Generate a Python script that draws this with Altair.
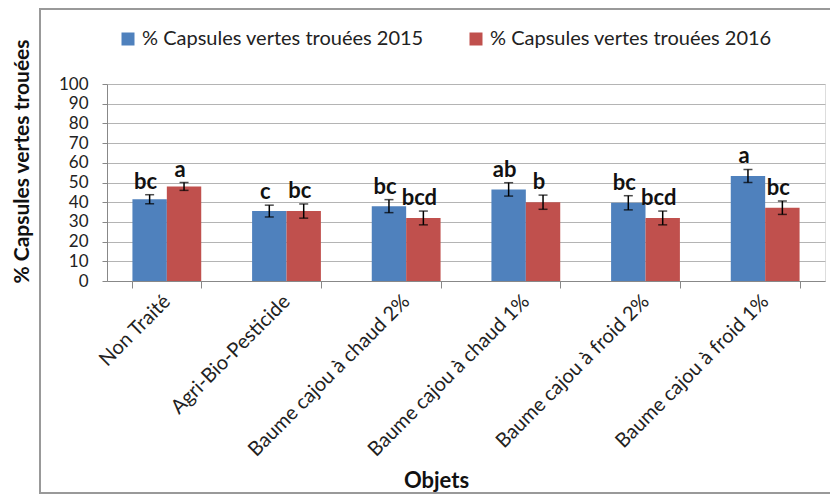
import altair as alt
import pandas as pd

categories = ["Non Traité", "Agri-Bio-Pesticide", "Baume cajou à chaud 2%",
              "Baume cajou à chaud 1%", "Baume cajou à froid 2%", "Baume cajou à froid 1%"]
series = ["% Capsules vertes trouées 2015", "% Capsules vertes trouées 2016"]
v2015 = [41.5, 35.5, 38.0, 46.5, 39.7, 53.3]
e2015 = [2.3, 3.0, 3.3, 3.4, 3.6, 3.3]
l2015 = ["bc", "c", "bc", "ab", "bc", "a"]
v2016 = [48.0, 35.5, 32.0, 40.0, 32.0, 37.2]
e2016 = [2.0, 3.6, 3.5, 3.6, 3.5, 3.4]
l2016 = ["a", "bc", "bcd", "b", "bcd", "bc"]
colors = ["#4F81BD", "#C0504D"]

rows = []
for i, c in enumerate(categories):
    rows.append({"obj": c, "serie": series[0], "val": v2015[i], "lo": v2015[i] - e2015[i],
                 "hi": v2015[i] + e2015[i], "lab": l2015[i]})
    rows.append({"obj": c, "serie": series[1], "val": v2016[i], "lo": v2016[i] - e2016[i],
                 "hi": v2016[i] + e2016[i], "lab": l2016[i]})
df = pd.DataFrame(rows)

FONT = "Lato"
W, H = 718, 197

xscale = alt.Scale(domain=categories, paddingInner=0.425, paddingOuter=0.2125)
xaxis = alt.Axis(labelAngle=-45, labelAlign="right", labelBaseline="middle",
                 labelPadding=10, labelFontSize=20, labelFont=FONT, labelColor="#222",
                 labelLimit=0, labelOverlap=False,
                 tickBand="extent", tickSize=7, tickColor="#888", domainColor="#888",
                 titleFont=FONT, titleFontSize=22, titleFontWeight="bold", titleColor="#111",
                 titleX=329, titleY=206, titleAlign="center", titleBaseline="alphabetic",
                 titleAnchor="start")
x = alt.X("obj:N", sort=categories, title="Objets", scale=xscale, axis=xaxis)
xo = alt.XOffset("serie:N", sort=series, scale=alt.Scale(domain=series, paddingInner=0, paddingOuter=0))

yscale = alt.Scale(domain=[0, 100], nice=False)
yaxis = alt.Axis(values=list(range(0, 101, 10)), tickSize=5, tickColor="#888",
                 domainColor="#888", gridColor="#b4b4b4", labelFontSize=17, labelFont=FONT,
                 labelColor="#222", labelPadding=14, labelOverlap=False,
                 titleFont=FONT, titleFontSize=21, titleFontWeight="bold", titleColor="#111",
                 titleAngle=270, titleX=-79, titleY=77, titleAlign="center",
                 titleBaseline="alphabetic")
ytitle = "% Capsules vertes trouées"

base = alt.Chart(df)

frame = base.mark_rect(fill=None, stroke="#999", strokeWidth=1.5).encode(
    x=alt.value(-67), x2=alt.value(740), y=alt.value(-75), y2=alt.value(409))

bars = base.mark_bar().encode(
    x=x, xOffset=xo,
    y=alt.Y("val:Q", title=ytitle, scale=yscale, axis=yaxis),
    color=alt.Color("serie:N", sort=series, scale=alt.Scale(domain=series, range=colors),
                    legend=alt.Legend(title=None, orient="none", legendX=11, legendY=-55,
                                      direction="horizontal", symbolType="square",
                                      symbolSize=169, symbolStrokeWidth=0, labelFontSize=20,
                                      labelFont=FONT, labelColor="#222", columnPadding=42,
                                      labelOffset=4, labelLimit=0)))

rules = base.mark_rule(color="black", strokeWidth=1.5).encode(
    x=x, xOffset=xo, y=alt.Y("lo:Q", title=ytitle, scale=yscale, axis=yaxis), y2="hi:Q")
caps_hi = base.mark_tick(color="black", thickness=1.5, size=9, orient="horizontal").encode(
    x=x, xOffset=xo, y=alt.Y("hi:Q", title=ytitle, scale=yscale, axis=yaxis))
caps_lo = base.mark_tick(color="black", thickness=1.5, size=9, orient="horizontal").encode(
    x=x, xOffset=xo, y=alt.Y("lo:Q", title=ytitle, scale=yscale, axis=yaxis))
texts = base.mark_text(font=FONT, fontSize=22, fontWeight="bold", color="#111",
                       baseline="alphabetic", dy=-6, dx=-4).encode(
    x=x, xOffset=xo, y=alt.Y("hi:Q", title=ytitle, scale=yscale, axis=yaxis), text="lab:N")

chart = alt.layer(frame, bars, rules, caps_hi, caps_lo, texts).properties(
    width=W, height=H,
    autosize=alt.AutoSizeParams(type="none"),
    padding={"left": 99, "top": 76, "right": 5, "bottom": 213},
).configure_view(stroke=None).configure(background="white")

chart.save("out.html", embed_options={"renderer": "svg", "actions": False})
